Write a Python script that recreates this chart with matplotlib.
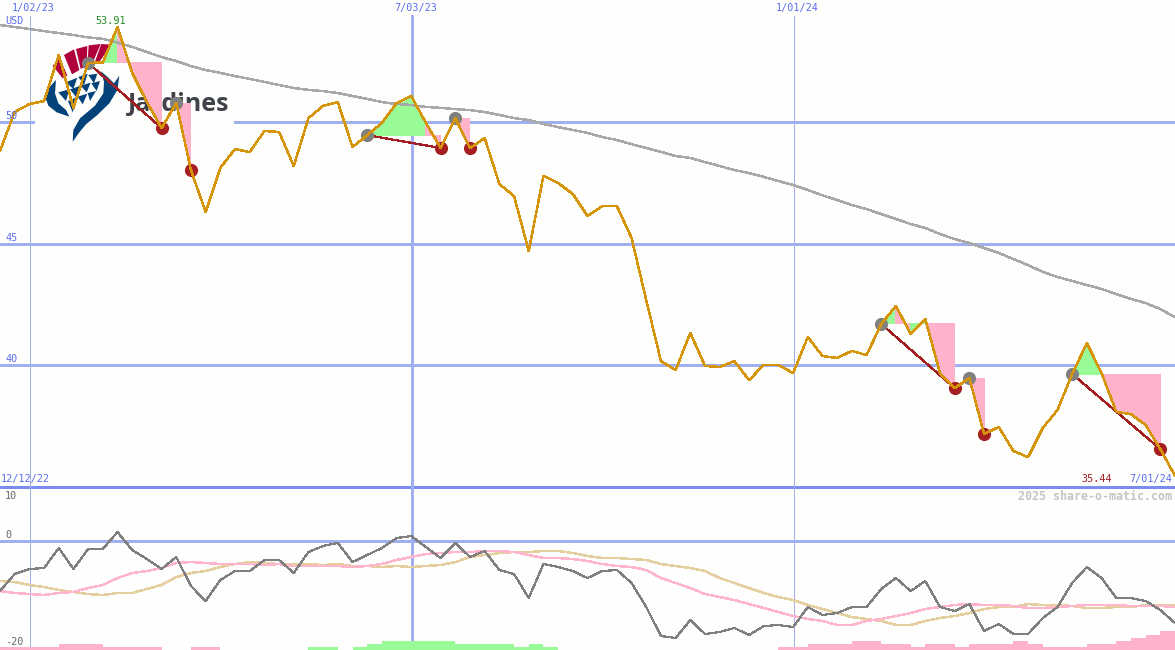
import matplotlib
matplotlib.use('Agg')
import matplotlib.pyplot as plt
from matplotlib.patches import Polygon, Rectangle
from matplotlib.transforms import Affine2D

W, H = 1175, 650
SPLIT = 487.5  # pixel row between price pane and macd pane

# weekly closes, USD
price = [48.81, 50.41, 50.74, 50.86, 52.76, 50.58, 52.43, 52.45, 53.91, 52.02,
         50.82, 49.75, 50.78, 48.02, 46.30, 48.11, 48.89, 48.76, 49.63, 49.59,
         48.19, 50.16, 50.66, 50.82, 48.97, 49.46, 49.96, 50.78, 51.07, 49.96,
         48.93, 50.16, 48.93, 49.34, 47.45, 46.95, 44.69, 47.78, 47.49, 47.04,
         46.13, 46.54, 46.54, 45.23, 42.67, 40.16, 39.79, 41.32, 39.96, 39.92,
         40.16, 39.38, 40.00, 40.00, 39.67, 41.15, 40.37, 40.29, 40.58, 40.41,
         41.69, 42.43, 41.28, 41.89, 39.67, 39.05, 39.46, 37.16, 37.45, 36.46,
         36.21, 37.41, 38.15, 39.63, 40.90, 39.67, 38.07, 37.98, 37.53, 36.54,
         35.44]

# long moving average
avg = [53.99, 53.91, 53.83, 53.74, 53.66, 53.58, 53.48, 53.42, 53.27, 53.09,
       52.88, 52.67, 52.51, 52.30, 52.14, 52.02, 51.89, 51.77, 51.65, 51.52,
       51.40, 51.32, 51.27, 51.19, 51.07, 50.95, 50.82, 50.74, 50.70, 50.62,
       50.58, 50.53, 50.49, 50.41, 50.29, 50.16, 50.08, 49.92, 49.79, 49.67,
       49.55, 49.38, 49.26, 49.09, 48.93, 48.77, 48.60, 48.52, 48.35, 48.19,
       48.02, 47.90, 47.74, 47.57, 47.41, 47.20, 46.98, 46.79, 46.58, 46.42,
       46.21, 46.01, 45.80, 45.64, 45.39, 45.18, 45.02, 44.81, 44.61, 44.36,
       44.11, 43.83, 43.62, 43.46, 43.29, 43.13, 42.92, 42.72, 42.55, 42.30,
       41.97]

macd = [-9.35, -6.17, -5.23, -5.05, -1.31, -5.23, -1.50, -1.50, 1.68, -1.68,
        -3.36, -5.23, -2.99, -8.41, -11.21, -7.29, -5.61, -5.61, -3.55, -3.55,
        -5.98, -2.06, -0.93, -0.37, -3.93, -2.62, -1.31, 0.56, 0.93, -1.12,
        -3.18, -0.37, -2.99, -1.87, -5.42, -6.17, -10.65, -4.30, -4.86, -5.61,
        -6.92, -5.61, -5.42, -7.85, -12.34, -17.76, -18.13, -14.77, -17.38, -17.01,
        -16.26, -17.57, -15.89, -15.70, -16.07, -12.34, -13.83, -13.46, -12.34, -12.34,
        -8.97, -6.92, -9.35, -7.48, -12.34, -13.08, -11.78, -16.82, -15.51, -17.38,
        -17.38, -14.39, -12.34, -7.85, -4.86, -6.92, -10.65, -10.65, -11.21, -12.90,
        -15.33]

signal_fast = [-9.35, -9.72, -9.91, -10.09, -9.72, -9.53, -8.79, -8.22, -6.92, -5.98,
               -5.61, -5.05, -4.11, -3.93, -4.11, -4.30, -4.30, -4.30, -4.49, -4.30,
               -4.67, -4.67, -4.67, -4.67, -4.86, -4.67, -4.30, -3.55, -2.99, -2.43,
               -2.24, -2.06, -2.06, -1.87, -1.87, -2.06, -2.62, -3.18, -3.18, -3.36,
               -3.74, -4.30, -4.67, -4.86, -5.42, -6.92, -7.85, -8.79, -9.91, -10.47,
               -11.03, -11.78, -12.52, -13.27, -14.02, -14.58, -14.95, -15.70, -15.70, -14.95,
               -14.58, -14.02, -13.46, -12.71, -12.34, -11.96, -11.78, -11.96, -11.96, -12.15,
               -12.52, -12.52, -12.34, -12.15, -11.96, -11.96, -11.96, -12.15, -12.15, -12.15,
               -12.34]

signal_slow = [-7.48, -7.66, -8.22, -8.60, -9.16, -9.53, -9.91, -10.09, -9.72, -9.72,
               -8.97, -8.22, -6.73, -5.98, -5.61, -4.86, -4.30, -3.93, -4.11, -4.30,
               -4.30, -4.30, -4.49, -4.30, -4.67, -4.67, -4.86, -4.67, -4.86, -4.67,
               -4.49, -3.93, -2.99, -2.62, -2.24, -2.06, -2.06, -1.87, -1.87, -2.24,
               -2.80, -3.18, -3.18, -3.36, -3.55, -4.30, -4.67, -5.05, -5.61, -6.92,
               -7.85, -8.79, -9.72, -10.47, -11.03, -11.96, -12.71, -13.46, -14.21, -14.58,
               -14.95, -15.70, -15.70, -14.95, -14.39, -14.02, -13.46, -12.71, -12.34, -12.34,
               -11.78, -11.96, -11.96, -12.15, -12.52, -12.52, -12.34, -12.34, -11.96, -11.96,
               -11.96]

# histogram, one bar per week starting at that week
hist = [-0.6, -0.6, -0.6, -0.6, -1.1, -1.1, -1.1, -0.6, -0.6, -0.6,
        -0.6, 0, 0, -0.6, -0.6, 0, 0, 0, 0, 0,
        0, 0.6, 0.6, 0, 0.6, 1.1, 1.7, 1.7, 1.7, 1.7,
        1.7, 1.1, 1.1, 1.1, 1.1, 0.6, 1.1, 0.6, 0, 0,
        0, 0, 0, 0, 0, 0, 0, 0, 0, 0,
        0, 0, 0, -0.6, -0.6, -1.1, -1.1, -1.1, -1.7, -1.7,
        -1.1, -1.1, -0.6, -1.1, -1.1, -0.6, -1.1, -1.1, -1.1, -1.7,
        -1.1, -0.6, -0.6, -0.6, -1.1, -1.1, -1.7, -2.2, -2.8, -3.6]

# (buy week, sell week)
trades = [(6, 11), (12, 13), (25, 30), (31, 32), (60, 65), (66, 67), (73, 79)]

price_ticks = [50, 45, 40]
floor_price = 35
macd_ticks = [0]
macd_labels = [10, 0, -20]
date_weeks = [2, 28, 54]
date_labels = ['1/02/23', '7/03/23', '1/01/24']
first_date = '12/12/22'
last_date = '7/01/24'

GRID = '#a0aff0'
AXIS = '#7b8cf0'
BLUE = '#5a6cf0'
GREEN = '#98fb98'
PINK = '#ffb3ca'
ORANGE = '#d69508'
RED = '#a51e22'
BG = '#fefffd'
CRIMSON = '#b0003c'
NAVY = '#04427a'

weeks = list(range(len(price)))
plt.rcParams['font.family'] = ['DejaVu Sans Mono']

fig = plt.figure(figsize=(W / 100, H / 100), dpi=100, facecolor=BG)
ax = fig.add_axes([0, (H - SPLIT) / H, 1, SPLIT / H])
low = fig.add_axes([0, 0, 1, (H - SPLIT) / H])
ax.set_xlim(0, 80)
low.set_xlim(0, 80)
ax.set_ylim(34.96, 55.02)
low.set_ylim(-20.37, 10)
ax.axis('off')
low.axis('off')

# pixel coordinates for the logo and the labels
px = Affine2D().scale(1 / W, -1 / H).translate(0, 1) + fig.transFigure

# grid
for t in price_ticks:
    ax.axhline(t, color=GRID, lw=1.05, zorder=1, antialiased=False)
ax.axhline(floor_price, color=AXIS, lw=1.05, zorder=1, antialiased=False, clip_on=False)
for t in macd_ticks:
    low.axhline(t, color=GRID, lw=1.05, zorder=1, antialiased=False)
for w, lw in zip(date_weeks, [0.7, 1.05, 0.7]):
    ax.axvline(w + 0.03, ymax=0.967, color=GRID, lw=lw, zorder=1, antialiased=False)
    low.axvline(w + 0.03, color=GRID, lw=lw, zorder=1, antialiased=False)


def shape(points, color):
    pts = [(40 + x / 3, 35 + y / 3) for x, y in points]
    ax.add_patch(Polygon(pts, closed=True, fc=color, ec='none', transform=px, zorder=1.6))


# logo, sits on a white plate that hides the grid
ax.add_patch(Rectangle((35, 42), 199, 100, fc=BG, ec='none', transform=px, zorder=1.5))
for wedge in [[(38, 92), (60, 70), (82, 122), (68, 130)],
              [(72, 60), (102, 43), (118, 105), (96, 118)],
              [(108, 42), (142, 33), (140, 92), (122, 102)],
              [(146, 31), (182, 27), (156, 88), (142, 95)],
              [(184, 27), (214, 29), (180, 78), (162, 88)]]:
    shape(wedge, CRIMSON)
shape([(48, 135), (25, 160), (17, 190), (25, 212), (50, 232), (88, 245), (78, 225), (55, 205), (45, 175)], NAVY)
shape([(182, 108), (205, 128), (222, 145), (238, 122), (232, 165), (208, 205), (172, 240),
       (138, 268), (118, 292), (98, 320), (100, 285), (120, 250), (165, 212), (190, 175), (192, 140)], NAVY)
for tri in [[(78, 142), (112, 128), (100, 162)], [(115, 126), (143, 116), (132, 150)],
            [(145, 120), (172, 116), (162, 145)], [(55, 172), (88, 163), (78, 198)],
            [(90, 163), (120, 153), (108, 186)], [(122, 152), (152, 143), (140, 172)],
            [(154, 145), (180, 138), (170, 168)], [(84, 198), (112, 186), (98, 232)],
            [(113, 185), (142, 176), (128, 208)], [(143, 174), (168, 168), (150, 198)]]:
    shape(tri, NAVY)
ax.text(128, 104, 'Jardines', transform=px, family='Open Sans', weight='bold', fontsize=18,
        color='#3f4349', ha='left', va='center', zorder=1.7)

# trade shading, colour follows where each week closes against the buy level
for buy, sell in trades:
    level = price[buy]
    for i in range(buy, sell):
        color = GREEN if price[i + 1] >= level else PINK
        ax.fill_between([i, i + 1], [price[i], price[i + 1]], level, facecolor=color, edgecolor='none',
                        lw=0, antialiased=False, zorder=2)

ax.plot(weeks, avg, color='#a8a8a8', lw=1.05, zorder=3, antialiased=False)
for buy, sell in trades:
    ax.plot([buy, sell], [price[buy], price[sell]], color=RED, lw=0.9, zorder=3, antialiased=False)
    ax.scatter(buy, price[buy], s=90, color='#808080', lw=0, zorder=3.5)
    ax.scatter(sell, price[sell], s=90, color=RED, lw=0, zorder=3.5)
ax.plot(weeks, price, color=ORANGE, lw=1.05, zorder=4, antialiased=False)

# macd pane
base = low.get_ylim()[0]
for i, h in enumerate(hist):
    if h != 0:
        low.bar(i, abs(h), width=1, align='edge', bottom=base, color=GREEN if h > 0 else PINK,
                lw=0, zorder=2, antialiased=False)
low.plot(weeks, signal_slow, color='#e5cfa0', lw=1.05, zorder=3, antialiased=False)
low.plot(weeks, signal_fast, color='#ffb6cc', lw=1.05, zorder=3, antialiased=False)
low.plot(weeks, macd, color='#808080', lw=0.85, zorder=4, antialiased=False)

# labels
TXT = dict(transform=px, fontsize=7.3, va='center', zorder=6)
for t, y in zip(price_ticks, [116, 238, 359]):
    ax.text(5, y, str(t), color=BLUE, **TXT)
ax.text(5, 21, 'USD', color=BLUE, **TXT)
for lab, x in zip(date_labels, [33, 416, 797]):
    ax.text(x, 8, lab, color=BLUE, ha='center', **TXT)
ax.text(1, 479, first_date, color=BLUE, **TXT)
ax.text(1172, 479, last_date, color=BLUE, ha='right', **TXT)
ax.text(1097, 479, f'{price[-1]:.2f}', color=RED, ha='center', **TXT)
ax.text(111, 21, f'{max(price):.2f}', color='#228b22', ha='center', **TXT)
for t, y in zip(macd_labels, [496, 535, 642]):
    low.text(5, y, str(t), color='#666666', **TXT)
low.text(1172, 496, '2025 share-o-matic.com', color='#c4c4c4', fontsize=8.4, weight='bold',
         transform=px, ha='right', va='center', zorder=6)

fig.savefig('out.png', dpi=100, facecolor=BG)
